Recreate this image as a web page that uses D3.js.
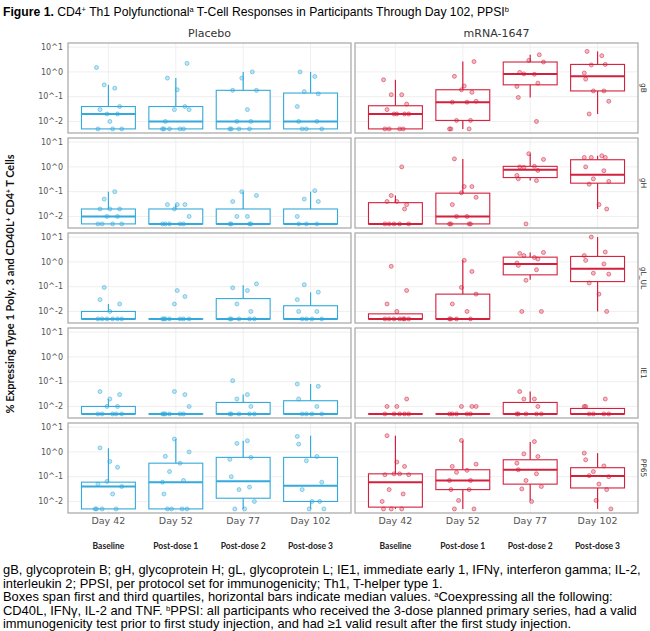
<!DOCTYPE html>
<html>
<head>
<meta charset="utf-8">
<script src="https://cdn.jsdelivr.net/npm/d3@7"></script>
<style>
  body { margin: 0; background: #fff; }
  svg { display: block; }
</style>
</head>
<body>
<div class="canvas"></div>
<script>
// categories
const arms = ['Placebo', 'mRNA-1647'];
const antigens = ['gB', 'gH', 'gL_UL', 'IE1', 'PP65'];
const days = ['Day 42', 'Day 52', 'Day 77', 'Day 102'];
const phases = ['Baseline', 'Post-dose 1', 'Post-dose 2', 'Post-dose 3'];
const yTicks = [10, 1, 0.1, 0.01];
const yTickLabels = ['10^1', '10^0', '10^-1', '10^-2'];

// box stats per day: [lower whisker, Q1, median, Q3, upper whisker]
const gBPlaceboBox = [[0.005, 0.005, 0.02, 0.04, 0.3], [0.005, 0.005, 0.01, 0.04, 0.56], [0.005, 0.005, 0.01, 0.18, 1.0], [0.005, 0.005, 0.01, 0.14, 1.0]];
const gBVaccineBox = [[0.005, 0.005, 0.02, 0.043, 0.48], [0.005, 0.011, 0.06, 0.19, 2.6], [0.093, 0.3, 0.83, 2.5, 4.9], [0.02, 0.17, 0.67, 2.0, 6.7]];
const gHPlaceboBox = [[0.005, 0.005, 0.01, 0.02, 0.1], [0.005, 0.005, 0.005, 0.02, 0.03], [0.005, 0.005, 0.005, 0.02, 0.1], [0.005, 0.005, 0.005, 0.02, 0.1]];
const gHVaccineBox = [[0.005, 0.005, 0.005, 0.036, 0.07], [0.005, 0.005, 0.01, 0.087, 2.1], [0.28, 0.37, 0.76, 1.05, 3.4], [0.02, 0.22, 0.48, 1.94, 2.8]];
const gLPlaceboBox = [[0.005, 0.005, 0.005, 0.01, 0.02], [0.005, 0.005, 0.005, 0.005, 0.005], [0.005, 0.005, 0.005, 0.033, 0.115], [0.005, 0.005, 0.005, 0.017, 0.059]];
const gLVaccineBox = [[0.005, 0.005, 0.005, 0.008, 0.008], [0.005, 0.005, 0.005, 0.05, 1.15], [0.19, 0.3, 0.83, 1.55, 2.4], [0.01, 0.16, 0.53, 1.66, 10]];
const ie1PlaceboBox = [[0.005, 0.005, 0.005, 0.01, 0.02], [0.005, 0.005, 0.005, 0.005, 0.005], [0.005, 0.005, 0.005, 0.0145, 0.03], [0.005, 0.005, 0.005, 0.017, 0.08]];
const ie1VaccineBox = [[0.005, 0.005, 0.005, 0.005, 0.005], [0.005, 0.005, 0.005, 0.005, 0.005], [0.005, 0.005, 0.005, 0.0145, 0.04], [0.005, 0.005, 0.005, 0.0083, 0.0083]];
const pp65PlaceboBox = [[0.005, 0.005, 0.04, 0.06, 1.4], [0.005, 0.005, 0.06, 0.35, 3.3], [0.005, 0.0135, 0.065, 0.6, 2.8], [0.005, 0.01, 0.043, 0.6, 4.5]];
const pp65VaccineBox = [[0.005, 0.0059, 0.059, 0.13, 4.5], [0.005, 0.03, 0.07, 0.19, 2.8], [0.011, 0.05, 0.19, 0.48, 2.5], [0.005, 0.035, 0.107, 0.23, 0.89]];

// individual participant values per day
const gBPlaceboPts = [
  [1.5, 0.22, 0.3, 0.04, 0.03, 0.01, 0.02, 0.02, 0.005, 0.005, 0.005],
  [2.2, 0.56, 0.19, 0.04, 0.03, 0.03, 0.01, 0.005, 0.005, 0.005, 0.005, 0.005],
  [1.0, 0.56, 0.18, 0.18, 0.03, 0.01, 0.01, 0.005, 0.005, 0.005, 0.005],
  [1.0, 0.65, 0.16, 0.13, 0.04, 0.01, 0.01, 0.005, 0.005, 0.005]];
const gBVaccinePts = [
  [0.48, 0.12, 0.12, 0.05, 0.03, 0.02, 0.02, 0.02, 0.02, 0.005, 0.005, 0.005, 0.005],
  [2.6, 0.66, 0.27, 0.15, 0.19, 0.065, 0.06, 0.06, 0.011, 0.011, 0.005, 0.005, 0.005],
  [4.9, 2.9, 2.5, 0.95, 0.8, 0.83, 0.35, 0.26, 0.093, 0.01],
  [6.7, 4.5, 1.9, 2.0, 0.9, 0.51, 0.17, 0.17, 0.065, 0.02]];
const gHPlaceboPts = [
  [0.1, 0.05, 0.02, 0.02, 0.02, 0.01, 0.01, 0.005, 0.005, 0.005, 0.005],
  [0.03, 0.03, 0.03, 0.02, 0.01, 0.005, 0.005, 0.005, 0.005, 0.005],
  [0.1, 0.07, 0.04, 0.01, 0.01, 0.005, 0.005, 0.005, 0.005],
  [0.11, 0.05, 0.04, 0.01, 0.005, 0.005, 0.005]];
const gHVaccinePts = [
  [1.0, 0.07, 0.03, 0.04, 0.04, 0.02, 0.005, 0.005, 0.005, 0.005, 0.005],
  [2.1, 0.16, 0.16, 0.09, 0.059, 0.03, 0.01, 0.01, 0.005, 0.005, 0.005, 0.005],
  [3.4, 2.0, 1.0, 1.05, 0.95, 0.72, 0.45, 0.33, 0.28, 0.005],
  [2.8, 2.4, 2.4, 2.4, 1.0, 0.7, 0.33, 0.26, 0.2, 0.03, 0.02]];
const gLPlaceboPts = [
  [0.093, 0.02, 0.03, 0.01, 0.005, 0.005, 0.005, 0.005, 0.005, 0.005],
  [0.07, 0.04, 0.02, 0.005, 0.005, 0.005, 0.005, 0.005, 0.005, 0.005],
  [0.13, 0.09, 0.07, 0.02, 0.01, 0.005, 0.005, 0.005, 0.005, 0.005],
  [0.12, 0.06, 0.03, 0.01, 0.01, 0.005, 0.005, 0.005, 0.005]];
const gLVaccinePts = [
  [0.66, 0.07, 0.02, 0.01, 0.005, 0.005, 0.005, 0.005, 0.005, 0.005, 0.005],
  [1.15, 0.41, 0.093, 0.05, 0.02, 0.01, 0.005, 0.005, 0.005, 0.005],
  [2.4, 2.2, 1.5, 1.8, 1.3, 0.9, 0.72, 0.48, 0.18, 0.01, 0.01],
  [10, 2.5, 1.8, 1.15, 0.83, 0.35, 0.32, 0.14, 0.05, 0.01]];
const ie1PlaceboPts = [
  [0.03, 0.04, 0.02, 0.01, 0.01, 0.005, 0.005, 0.005, 0.005, 0.005],
  [0.03, 0.04, 0.01, 0.005, 0.005, 0.005, 0.005, 0.005, 0.005],
  [0.11, 0.03, 0.02, 0.01, 0.005, 0.005, 0.005, 0.005, 0.005],
  [0.065, 0.08, 0.02, 0.01, 0.005, 0.005, 0.005, 0.005]];
const ie1VaccinePts = [
  [0.02, 0.01, 0.01, 0.005, 0.005, 0.005, 0.005, 0.005],
  [0.01, 0.01, 0.01, 0.005, 0.005, 0.005, 0.005, 0.005],
  [0.04, 0.02, 0.02, 0.01, 0.005, 0.005, 0.005, 0.005, 0.005],
  [0.02, 0.01, 0.01, 0.005, 0.005, 0.005, 0.005]];
const pp65PlaceboPts = [
  [1.45, 0.41, 0.24, 0.064, 0.04, 0.05, 0.02, 0.005, 0.005, 0.005, 0.005],
  [3.3, 1.0, 0.66, 0.35, 0.16, 0.07, 0.06, 0.02, 0.005, 0.005, 0.005, 0.005],
  [2.8, 2.2, 0.6, 0.5, 0.1, 0.038, 0.03, 0.01, 0.005, 0.005],
  [4.2, 2.05, 0.65, 0.44, 0.06, 0.03, 0.01, 0.01, 0.005, 0.005]];
const pp65VaccinePts = [
  [4.5, 0.39, 0.26, 0.13, 0.12, 0.12, 0.13, 0.03, 0.02, 0.01, 0.005, 0.005, 0.005],
  [2.9, 0.32, 0.26, 0.18, 0.15, 0.07, 0.07, 0.03, 0.03, 0.011, 0.005, 0.005],
  [2.6, 0.83, 0.65, 0.35, 0.19, 0.13, 0.07, 0.04, 0.032, 0.01],
  [0.89, 0.48, 0.27, 0.16, 0.1, 0.11, 0.05, 0.03, 0.011, 0.005]];

const boxes = [
  [gBPlaceboBox, gBVaccineBox], [gHPlaceboBox, gHVaccineBox], [gLPlaceboBox, gLVaccineBox],
  [ie1PlaceboBox, ie1VaccineBox], [pp65PlaceboBox, pp65VaccineBox]];
const points = [
  [gBPlaceboPts, gBVaccinePts], [gHPlaceboPts, gHVaccinePts], [gLPlaceboPts, gLVaccinePts],
  [ie1PlaceboPts, ie1VaccinePts], [pp65PlaceboPts, pp65VaccinePts]];

const armColors = ['#33aadb', '#d3203d'];

// svg
const width = 650, height = 631;
const svg = d3.select('.canvas').append('svg')
    .attr('width', width)
    .attr('height', height);

const panelX = [68, 355];      // left edge of each column
const panelW = 283;
const panelTop = 43;
const panelH = 90;
const rowStep = 95;

// log scale, padded 5% like ggplot
const lo = 0.005, hi = 10;
const span = Math.log10(hi) - Math.log10(lo);
const y = d3.scaleLog()
    .domain([Math.pow(10, Math.log10(lo) - 0.05 * span), Math.pow(10, Math.log10(hi) + 0.05 * span)])
    .range([panelH, 0]);

const x = d3.scalePoint()
    .domain(days)
    .range([0, panelW])
    .padding(0.6);
const boxW = x.step() * 0.8;

// fixed jitter pattern (fraction of half-spread)
const jit = [-0.85, 0.45, -0.3, 0.8, -0.6, 0.1, 0.65, -0.1, 0.95, -0.75, 0.3, -0.45, 0.55, -0.95];
const spread = 14;

const font = "'DejaVu Sans', sans-serif";

antigens.forEach((ag, r) => {
  arms.forEach((arm, c) => {
    const g = svg.append('g')
        .attr('transform', `translate(${panelX[c]}, ${panelTop + r * rowStep})`);
    const col = armColors[c];

    // grid
    g.selectAll('.hgrid').data(yTicks).enter().append('line')
        .attr('x1', 0).attr('x2', panelW)
        .attr('y1', d => y(d)).attr('y2', d => y(d))
        .attr('stroke', '#ebebeb').attr('stroke-width', 0.8);
    g.selectAll('.vgrid').data(days).enter().append('line')
        .attr('x1', d => x(d)).attr('x2', d => x(d))
        .attr('y1', 0).attr('y2', panelH)
        .attr('stroke', '#ebebeb').attr('stroke-width', 0.8);

    const stats = boxes[r][c];
    // whiskers
    g.selectAll('.wh').data(stats).enter().append('line')
        .attr('x1', (d, i) => x(days[i])).attr('x2', (d, i) => x(days[i]))
        .attr('y1', d => y(d[0])).attr('y2', d => y(d[4]))
        .attr('stroke', col).attr('stroke-width', 1.2);
    // boxes
    g.selectAll('.box').data(stats).enter().append('rect')
        .attr('x', (d, i) => x(days[i]) - boxW / 2)
        .attr('width', boxW)
        .attr('y', d => y(d[3]))
        .attr('height', d => Math.max(0.01, y(d[1]) - y(d[3])))
        .attr('fill', '#fff')
        .attr('stroke', col).attr('stroke-width', 1.1);
    // medians
    g.selectAll('.med').data(stats).enter().append('line')
        .attr('x1', (d, i) => x(days[i]) - boxW / 2)
        .attr('x2', (d, i) => x(days[i]) + boxW / 2)
        .attr('y1', d => y(d[2])).attr('y2', d => y(d[2]))
        .attr('stroke', col).attr('stroke-width', 2);

    // points
    points[r][c].forEach((vals, i) => {
      g.selectAll(null).data(vals).enter().append('circle')
          .attr('cx', (d, k) => x(days[i]) + jit[(k + i * 3 + r) % jit.length] * spread)
          .attr('cy', d => y(d))
          .attr('r', 2)
          .attr('fill', col).attr('fill-opacity', 0.3)
          .attr('stroke', col).attr('stroke-opacity', 0.65).attr('stroke-width', 0.8);
    });

    // panel border
    g.append('rect')
        .attr('width', panelW).attr('height', panelH)
        .attr('fill', 'none').attr('stroke', '#a6a6a6').attr('stroke-width', 1.2);

    // y tick labels on left column only
    if (c === 0) {
      g.selectAll('.yt').data(yTicks).enter().append('text')
          .attr('x', -5).attr('y', d => y(d)).attr('dy', '0.35em')
          .attr('text-anchor', 'end')
          .style('font-family', font).style('font-size', '8px').attr('fill', '#555')
          .text((d, i) => yTickLabels[i]);
    }
  });

  // strip label on the right
  svg.append('text')
      .attr('transform', `translate(641, ${panelTop + r * rowStep + panelH / 2}) rotate(90)`)
      .attr('text-anchor', 'middle')
      .style('font-family', font).style('font-size', '7.5px').attr('fill', '#333')
      .text(ag);
});

// column headers
arms.forEach((arm, c) => {
  svg.append('text')
      .attr('x', panelX[c] + panelW / 2).attr('y', 37)
      .attr('text-anchor', 'middle')
      .style('font-family', font).style('font-size', '11px').attr('fill', '#333')
      .text(arm);

  // x axis labels
  svg.append('g').selectAll('text').data(days).enter().append('text')
      .attr('x', d => panelX[c] + x(d)).attr('y', 524)
      .attr('text-anchor', 'middle')
      .style('font-family', font).style('font-size', '9.5px').attr('fill', '#555')
      .text(d => d);
  svg.append('g').selectAll('text').data(phases).enter().append('text')
      .attr('x', (d, i) => panelX[c] + x(days[i])).attr('y', 549)
      .attr('text-anchor', 'middle')
      .style('font-family', 'Lato, sans-serif').style('font-size', '8.5px')
      .style('font-weight', 'bold').attr('fill', '#222')
      .text(d => d);
});

// y axis title
const yt = svg.append('text')
    .attr('transform', `translate(14, ${panelTop + (4 * rowStep + panelH) / 2 + 6}) rotate(-90)`)
    .attr('text-anchor', 'middle')
    .style('font-family', 'Lato, sans-serif').style('font-size', '11px')
    .style('font-weight', 'bold').attr('fill', '#111');
yt.append('tspan').text('% Expressing Type 1 Poly. 3 and CD40L');
yt.append('tspan').attr('dy', -3).style('font-size', '6.5px').text('+');
yt.append('tspan').attr('dy', 3).text(' CD4');
yt.append('tspan').attr('dy', -3).style('font-size', '6.5px').text('+');
yt.append('tspan').attr('dy', 3).text(' T Cells');

// title
const title = svg.append('text')
    .attr('x', 3).attr('y', 16)
    .style('font-family', "'Liberation Sans', Arial, sans-serif").style('font-size', '12.2px')
    .attr('fill', '#000');
title.append('tspan').style('font-weight', 'bold').text('Figure 1.');
title.append('tspan').text(' CD4');
title.append('tspan').attr('dy', -4).style('font-size', '7.5px').text('+');
title.append('tspan').attr('dy', 4).text(' Th1 Polyfunctional');
title.append('tspan').attr('dy', -4).style('font-size', '7.5px').text('a');
title.append('tspan').attr('dy', 4).text(' T-Cell Responses in Participants Through Day 102, PPSI');
title.append('tspan').attr('dy', -4).style('font-size', '7.5px').text('b');

// footnote
const noteLines = [
  [['gB, glycoprotein B; gH, glycoprotein H; gL, glycoprotein L; IE1, immediate early 1, IFN\u03b3, interferon gamma; IL-2,', false]],
  [['interleukin 2; PPSI, per protocol set for immunogenicity; Th1, T-helper type 1.', false]],
  [['Boxes span first and third quartiles, horizontal bars indicate median values. ', false], ['a', true], ['Coexpressing all the following:', false]],
  [['CD40L, IFN\u03b3, IL-2 and TNF. ', false], ['b', true], ['PPSI: all participants who received the 3-dose planned primary series, had a valid', false]],
  [['immunogenicity test prior to first study injection, and had \u22651 valid result after the first study injection.', false]]
];
noteLines.forEach((parts, i) => {
  const t = svg.append('text')
      .attr('x', 3).attr('y', 574 + i * 13.5)
      .style('font-family', "'Liberation Sans', Arial, sans-serif").style('font-size', '12.9px')
      .attr('fill', '#000');
  parts.forEach(([s, sup]) => {
    if (sup) {
      t.append('tspan').attr('dy', -4).style('font-size', '7.5px').text(s);
    } else {
      const ts = t.append('tspan').text(s);
      if (t.selectAll('tspan').size() > 1) ts.attr('dy', 4);
    }
  });
});
</script>
</body>
</html>
